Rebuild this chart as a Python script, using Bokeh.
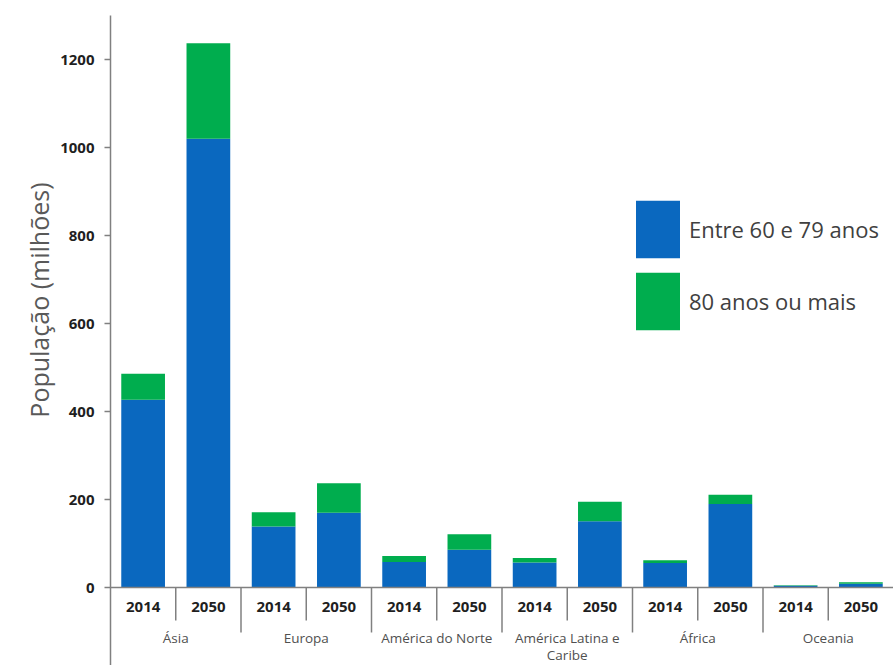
from bokeh.plotting import figure
from bokeh.models import (FactorRange, Range1d, FixedTicker, Legend, LegendItem,
                          Span, ColumnDataSource, Title)
from bokeh.core.properties import value
from bokeh.embed import file_html
from bokeh.resources import INLINE

# ---- data ----
regions = ["Ásia", "Europa", "América do Norte", "América Latina e Caribe", "África", "Oceania"]
region_labels = ["Ásia", "Europa", "América do Norte", "América Latina e\nCaribe", "África", "Oceania"]
years = ["2014", "2050"]
age_60_79 = [427, 1020, 139, 170, 58, 86, 57, 151, 56, 190, 4.5, 9]
age_80_plus = [59, 217, 32, 67, 14, 35, 10, 44, 6, 21, 1, 3]
series_labels = ["Entre 60 e 79 anos", "80 anos ou mais"]
y_ticks = [0, 200, 400, 600, 800, 1000, 1200]
y_title = "População (milhões)"

BLUE = "#0A68BF"
GREEN = "#00AD4E"
AXIS_GRAY = "#808080"
FONT = "Open Sans"

factors = [(r, y) for r in regions for y in years]
src = ColumnDataSource(dict(x=factors, a=age_60_79, b=age_80_plus))

x_range = FactorRange(factors=factors, factor_padding=0, group_padding=0,
                      subgroup_padding=0, range_padding=0)
p = figure(x_range=x_range, y_range=Range1d(-177, 1300), width=893, height=665,
           output_backend="svg", toolbar_location=None, x_axis_location=None,
           min_border_left=110, min_border_top=15, min_border_right=0,
           min_border_bottom=0, outline_line_color=None,
           background_fill_color="white", border_fill_color="white")
p.grid.visible = False

renderers = p.vbar_stack(["a", "b"], x="x", width=0.67, color=[BLUE, GREEN],
                         line_color=None, source=src)

# baseline at zero
p.add_layout(Span(location=0, dimension="width", line_color=AXIS_GRAY, line_width=1.5))

# category separators
short_x = [(r, 0) for r in regions]
long_x = [(r, 1.0) for r in regions[:-1]]
p.segment(x0=short_x, x1=short_x, y0=[0] * len(short_x), y1=[-75] * len(short_x),
          line_color=AXIS_GRAY, line_width=1.5)
p.segment(x0=long_x, x1=long_x, y0=[0] * len(long_x), y1=[-102] * len(long_x),
          line_color=AXIS_GRAY, line_width=1.5)

# year labels and region labels
p.text(x=factors, y=[-45] * len(factors), text=[f[1] for f in factors],
       text_font=value(FONT), text_font_size="15px", text_color="#1f1f1f",
       text_font_style="bold",
       text_align="center", text_baseline="middle")
p.text(x=regions, y=[-94] * len(regions), text=region_labels,
       text_font=value(FONT), text_font_size="13.5px", text_color="#505050",
       text_align="center", text_baseline="top", text_line_height=0.95)

# y axis (line, ticks, tick labels)
ax = p.yaxis[0]
ax.ticker = FixedTicker(ticks=y_ticks)
ax.axis_line_color = AXIS_GRAY
ax.axis_line_width = 1.5
ax.major_tick_line_color = AXIS_GRAY
ax.major_tick_line_width = 1.5
ax.major_tick_out = 6
ax.major_tick_in = 0
ax.minor_tick_line_color = None
ax.major_label_text_font = FONT
ax.major_label_text_font_size = "15px"
ax.major_label_text_font_style = "bold"
ax.major_label_text_color = "#1f1f1f"
ax.major_label_standoff = 10

# y axis title as a left-side title, placed along the bars' value span
p.add_layout(Title(text=y_title, align="right", offset=167, vertical_align="top",
                   standoff=0, text_font=FONT, text_font_size="25px",
                   text_font_style="normal", text_color="#595959"), "left")

legend = Legend(items=[LegendItem(label=series_labels[i], renderers=[renderers[i]])
                       for i in range(2)],
                location=(520, 328), padding=0, margin=0, spacing=0,
                glyph_width=55, glyph_height=72, label_standoff=4,
                label_text_font=FONT, label_text_font_size="22px",
                label_text_color="#404040", border_line_color=None,
                background_fill_alpha=0)
p.add_layout(legend)

open("out.html", "w").write(file_html(p, INLINE))
